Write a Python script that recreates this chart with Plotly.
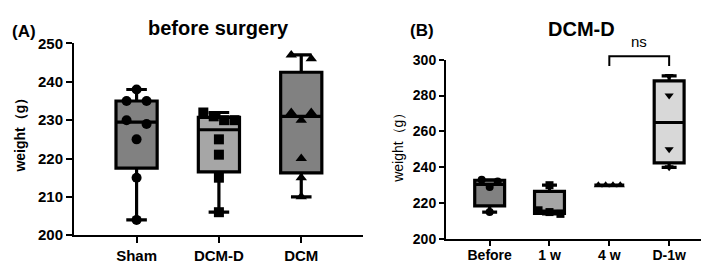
import numpy as np
import plotly.graph_objects as go

# ---------------- data ----------------
cats_a = ["Sham", "DCM-D", "DCM"]
sham = [238, 235, 235, 230, 229, 225, 215, 204]
dcm_d = [232, 231, 230, 230, 225, 221, 215, 206]
dcm = [247, 246, 232, 232, 230, 220, 215, 210]
ticks_a = [200, 210, 220, 230, 240, 250]

cats_b = ["Before", "1 w", "4 w", "D-1w"]
before = [233, 232, 229, 215]
w1 = [230, 216, 215, 214]
w4 = [230, 230, 230, 230]
d1w = [291, 280, 250, 240]
ticks_b = [200, 220, 240, 260, 280, 300]
sig_label = "ns"
sig_pair = (2, 3)
sig_top, sig_leg = 302, 296.5

# ---------------- layout constants ----------------
W, H = 709, 263
FONT = "Liberation Sans"
A_px = (66, 355); A_xr = (-0.76, 2.75); A_py = (233.3, 28.3); A_yr = (200, 250)
B_px = (438, 709); B_xr = (-0.73, 3.8); B_py = (237.3, 45.7); B_yr = (200, 300)


def dom_x(px):
    return [px[0] / W, px[1] / W]


def dom_y(py):
    return [(H - py[0]) / H, (H - py[1]) / H]


def ppu(p, r):
    return abs(p[1] - p[0]) / (r[1] - r[0])


def swarm(vals, xppu, yppu, d, box_px):
    vals = np.asarray(vals, float)
    order = np.argsort(-vals, kind="stable")
    clusters, cur = [], [order[0]]
    for i in order[1:]:
        if (vals[cur[-1]] - vals[i]) * yppu < 0.7 * d:
            cur.append(i)
        else:
            clusters.append(cur)
            cur = [i]
    clusters.append(cur)
    offs = np.zeros(len(vals))
    for c in clusters:
        n = len(c)
        if n == 1:
            continue
        s = min(2 * d, (box_px - d) / (n - 1))
        for k, i in enumerate(c):
            offs[i] = (k - (n - 1) / 2) * s / xppu
    return offs


def stats(v):
    v = np.asarray(v, float)
    q1, med, q3 = np.percentile(v, [25, 50, 75], method="weibull")
    return q1, med, q3, v.min(), v.max()


fig = go.Figure()

BOXW = 0.5


def add_group(xi, vals, fill, symbol, msize, xa, ya, xppu, yppu):
    q1, med, q3, lo, hi = stats(vals)
    fig.add_trace(go.Box(
        x=[xi], q1=[q1], median=[med], q3=[q3], lowerfence=[lo], upperfence=[hi],
        width=BOXW, whiskerwidth=0.5, fillcolor=fill,
        line=dict(color="black", width=3.2), boxpoints=False,
        xaxis=xa, yaxis=ya, showlegend=False, hoverinfo="skip"))
    offs = swarm(vals, xppu, yppu, msize, BOXW * xppu)
    fig.add_trace(go.Scatter(
        x=xi + offs, y=vals, mode="markers",
        marker=dict(symbol=symbol, size=msize, color="black", line=dict(width=0)),
        xaxis=xa, yaxis=ya, showlegend=False, cliponaxis=False))


axp = ppu(A_px, A_xr); ayp = ppu(A_py, A_yr)
bxp = ppu(B_px, B_xr); byp = ppu(B_py, B_yr)

for i, (vals, fill, sym) in enumerate(zip(
        [sham, dcm_d, dcm], ["#818181", "#a6a6a6", "#818181"],
        ["circle", "square", "triangle-up"])):
    add_group(i, vals, fill, sym, 10, "x", "y", axp, ayp)

for i, (vals, fill, sym) in enumerate(zip(
        [before, w1, w4, d1w], ["#818181", "#a6a6a6", "#a6a6a6", "#d8d8d8"],
        ["circle", "square", "triangle-up", "triangle-down"])):
    add_group(i, vals, fill, sym, 8, "x2", "y2", bxp, byp)

axis_common = dict(showline=True, linecolor="black", linewidth=2, ticks="outside",
                   tickwidth=2, tickcolor="black", showgrid=False,
                   zeroline=False, fixedrange=True)

fig.update_layout(
    width=W, height=H, margin=dict(l=0, r=0, t=0, b=0),
    paper_bgcolor="white", plot_bgcolor="white",
    xaxis=dict(domain=dom_x(A_px), range=list(A_xr), tickvals=list(range(len(cats_a))),
               ticktext=cats_a, tickfont=dict(family=FONT, size=15, color="black", weight="bold"),
               anchor="y", ticklen=6, **axis_common),
    yaxis=dict(domain=dom_y(A_py), range=list(A_yr), tickvals=ticks_a,
               tickfont=dict(family=FONT, size=15, color="black", weight="bold"),
               anchor="x", ticklen=6, **axis_common),
    xaxis2=dict(domain=dom_x(B_px), range=list(B_xr), tickvals=list(range(len(cats_b))),
                ticktext=cats_b, tickfont=dict(family=FONT, size=14, color="black", weight="bold"),
                anchor="y2", ticklen=5, ticklabelstandoff=-3, **axis_common),
    yaxis2=dict(domain=dom_y(B_py), range=list(B_yr), tickvals=ticks_b,
                tickfont=dict(family=FONT, size=14, color="black", weight="bold"),
                anchor="x2", ticklen=5, **axis_common),
)


def bx_paper(v):
    return (B_px[0] + (v - B_xr[0]) * bxp) / W


def by_paper(v):
    return (H - (B_py[0] - (v - B_yr[0]) * byp)) / H


x0, x1 = sig_pair
fig.add_shape(type="path", xref="paper", yref="paper",
              path=(f"M {bx_paper(x0)} {by_paper(sig_leg)} L {bx_paper(x0)} {by_paper(sig_top)} "
                    f"L {bx_paper(x1)} {by_paper(sig_top)} L {bx_paper(x1)} {by_paper(sig_leg)}"),
              line=dict(color="black", width=2))
fig.add_annotation(x=bx_paper((x0 + x1) / 2), y=(H - 26.5) / H, xref="paper", yref="paper",
                   text=sig_label, showarrow=False, xanchor="center", yanchor="middle",
                   font=dict(family=FONT, size=15, color="black"))

# titles
fig.add_annotation(x=(A_px[0] + A_px[1]) / 2 / W, y=(H - 12) / H, xref="paper", yref="paper",
                   text="before surgery", showarrow=False, xanchor="center", yanchor="middle",
                   font=dict(family=FONT, size=20, color="black", weight="bold"))
fig.add_annotation(x=(B_px[0] + B_px[1]) / 2 / W, y=(H - 12.5) / H, xref="paper", yref="paper",
                   text="DCM-D", showarrow=False, xanchor="center", yanchor="middle",
                   font=dict(family=FONT, size=20, color="black", weight="bold"))
fig.add_annotation(x=2 / W, y=(H - 15) / H, xref="paper", yref="paper",
                   text="(A)", showarrow=False, xanchor="left", yanchor="middle",
                   font=dict(family=FONT, size=17, color="black", weight="bold"))
fig.add_annotation(x=400 / W, y=(H - 14.5) / H, xref="paper", yref="paper",
                   text="(B)", showarrow=False, xanchor="left", yanchor="middle",
                   font=dict(family=FONT, size=17, color="black", weight="bold"))
# y titles
fig.add_annotation(x=12 / W, y=(H - 122.5) / H, xref="paper", yref="paper",
                   text="weight（g）", showarrow=False, textangle=-90,
                   xanchor="center", yanchor="middle",
                   font=dict(family=FONT, size=14, color="black", weight="bold"))
fig.add_annotation(x=390 / W, y=(H - 136.7) / H, xref="paper", yref="paper",
                   text="weight（g）", showarrow=False, textangle=-90,
                   xanchor="center", yanchor="middle",
                   font=dict(family=FONT, size=14, color="black"))

fig.write_html("out.html")
